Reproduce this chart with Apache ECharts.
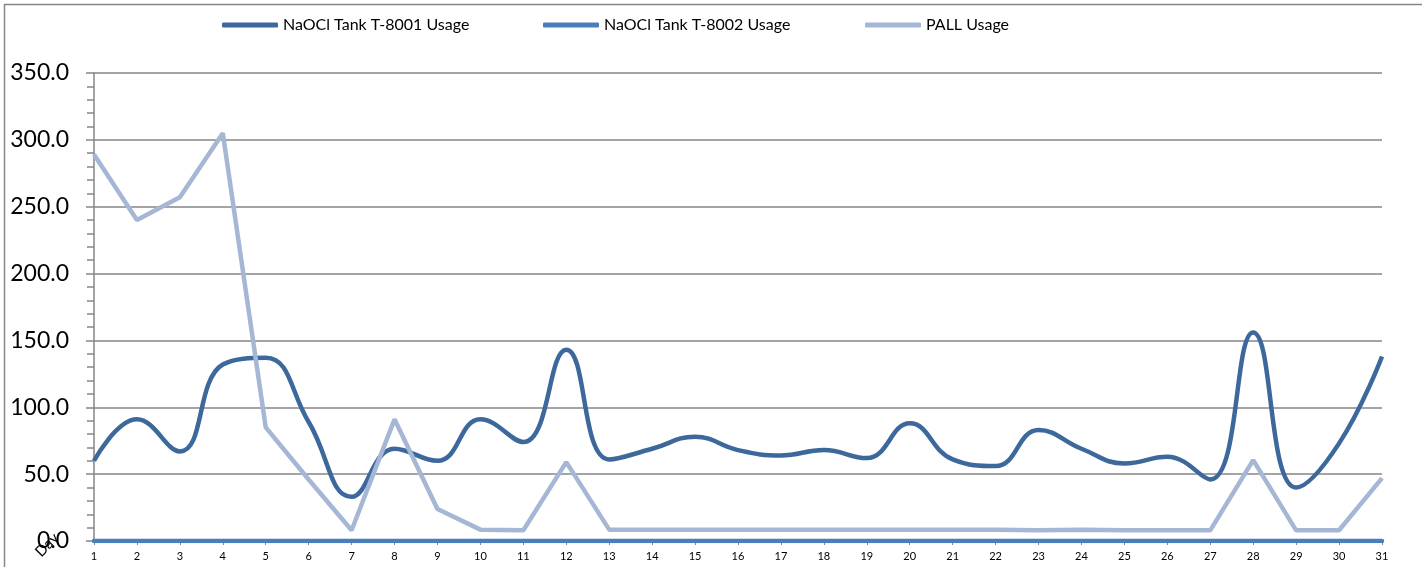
<!DOCTYPE html>
<html>
<head>
<meta charset="utf-8">
<script src="https://cdn.jsdelivr.net/npm/echarts@6/dist/echarts.min.js"></script>
<style>
html,body{margin:0;padding:0;background:#fff;}
#chart{width:1422px;height:567px;}
</style>
</head>
<body>
<div id="chart"></div>
<script>
const days = ['1','2','3','4','5','6','7','8','9','10','11','12','13','14','15','16','17','18','19','20','21','22','23','24','25','26','27','28','29','30','31'];
const tank8001 = [60, 91, 67, 132, 137, 89, 33, 69, 60, 91, 74, 143, 61, 69, 78, 68, 64, 68, 62, 88, 61, 56, 83, 69, 58, 63, 46, 156, 40, 73, 138];
const tank8002 = [0, 0, 0, 0, 0, 0, 0, 0, 0, 0, 0, 0, 0, 0, 0, 0, 0, 0, 0, 0, 0, 0, 0, 0, 0, 0, 0, 0, 0, 0, 0];
const pall = [289, 240, 257, 305, 85, 46, 8, 91, 24, 8.5, 8, 59, 8.5, 8.5, 8.5, 8.5, 8.5, 8.5, 8.5, 8.5, 8.5, 8.5, 8, 8.5, 8, 8, 8, 60.5, 8, 8, 47];
const seriesNames = ['NaOCl Tank T-8001 Usage', 'NaOCl Tank T-8002 Usage', 'PALL Usage'];
const yTicks = { min: 0, max: 350, interval: 50 };

const FONT = 'Lato, "Open Sans", sans-serif';
const GRAY = '#868686';
const colors = ['#3c689c', '#4a7ebb', '#a5b7d4'];

const chart = echarts.init(document.getElementById('chart'));
const legendPos = [222, 543, 865];
chart.setOption({
  animation: false,
  textStyle: { fontFamily: FONT },
  graphic: [
    { type: 'line', shape: { x1: 4, y1: 4.5, x2: 1422, y2: 4.5 }, style: { stroke: GRAY, lineWidth: 1.5 } },
    { type: 'line', shape: { x1: 4.5, y1: 4, x2: 4.5, y2: 567 }, style: { stroke: GRAY, lineWidth: 1.5 } },
    { type: 'text', x: 47, y: 545, rotation: Math.PI / 4, style: { text: 'Day', font: '15px ' + FONT, fill: '#000', textAlign: 'center', textVerticalAlign: 'middle' } }
  ],
  legend: seriesNames.map((n, i) => ({
    data: [n],
    left: legendPos[i],
    top: 17,
    padding: 0,
    icon: 'roundRect',
    itemWidth: 56,
    itemHeight: 5,
    itemGap: 0,
    textStyle: { fontFamily: FONT, fontSize: 16, color: '#000' }
  })),
  grid: { left: 94, right: 40, top: 73, bottom: 26 },
  xAxis: {
    type: 'category',
    data: days,
    boundaryGap: false,
    axisLine: { lineStyle: { color: GRAY, width: 1.5 } },
    axisTick: { show: true, length: 4, lineStyle: { color: GRAY } },
    axisLabel: { color: '#000', fontSize: 11, margin: 10, fontFamily: FONT }
  },
  yAxis: [
    {
      type: 'value',
      min: yTicks.min, max: yTicks.max, interval: yTicks.interval,
      position: 'left',
      axisLine: { show: true, lineStyle: { color: GRAY, width: 1.5 } },
      axisTick: { show: true, length: 8, lineStyle: { color: GRAY, width: 1.5 } },
      minorTick: { show: true, splitNumber: 5, length: 7, lineStyle: { color: GRAY, width: 1.5 } },
      splitLine: { show: true, lineStyle: { color: GRAY, width: 1.5 } },
      axisLabel: { color: '#000', fontSize: 23, margin: 25, fontFamily: FONT, formatter: v => v.toFixed(1) }
    },
    {
      type: 'value',
      min: yTicks.min, max: yTicks.max, interval: yTicks.interval,
      position: 'left',
      axisLine: { show: false },
      axisTick: { show: false },
      minorTick: { show: true, splitNumber: 5, length: 7, lineStyle: { color: GRAY, width: 1.5 } },
      splitLine: { show: false },
      axisLabel: { show: false }
    }
  ],
  series: [
    { name: seriesNames[0], type: 'line', data: tank8001, smooth: 0.45, showSymbol: false, lineStyle: { color: colors[0], width: 4.5 }, itemStyle: { color: colors[0] } },
    { name: seriesNames[1], type: 'line', data: tank8002, showSymbol: false, lineStyle: { color: colors[1], width: 4.5, cap: 'round' }, itemStyle: { color: colors[1] } },
    { name: seriesNames[2], type: 'line', data: pall, showSymbol: false, lineStyle: { color: colors[2], width: 4.5 }, itemStyle: { color: colors[2] } }
  ]
});
</script>
</body>
</html>
